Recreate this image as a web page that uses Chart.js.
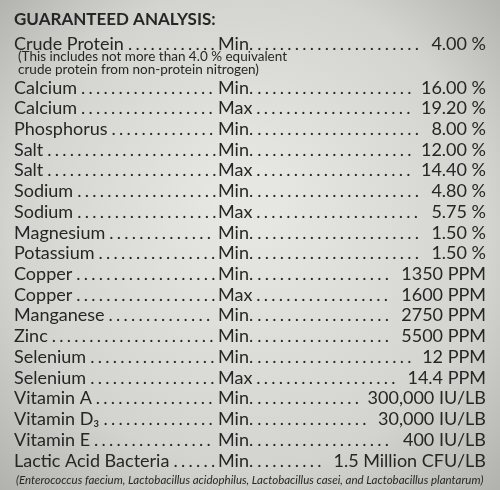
<!DOCTYPE html>
<html>
<head>
<meta charset="utf-8">
<script src="https://cdn.jsdelivr.net/npm/chart.js@4"></script>
<style>
  html, body { margin: 0; padding: 0; background: #d6d6d2; }
  #wrap { width: 500px; height: 490px; }
</style>
</head>
<body>
<div id="wrap"><canvas id="label"></canvas></div>
<script>
// label rows
const nutrients = ["Crude Protein", "Calcium", "Calcium", "Phosphorus", "Salt", "Salt", "Sodium", "Sodium",
  "Magnesium", "Potassium", "Copper", "Copper", "Manganese", "Zinc", "Selenium", "Selenium",
  "Vitamin A", "Vitamin D₃", "Vitamin E", "Lactic Acid Bacteria"];
const limits = ["Min.", "Min.", "Max", "Min.", "Min.", "Max", "Min.", "Max", "Min.", "Min.", "Min.", "Max",
  "Min.", "Min.", "Min.", "Max", "Min.", "Min.", "Min.", "Min."];
const amounts = ["4.00 %", "16.00 %", "19.20 %", "8.00 %", "12.00 %", "14.40 %", "4.80 %", "5.75 %",
  "1.50 %", "1.50 %", "1350 PPM", "1600 PPM", "2750 PPM", "5500 PPM", "12 PPM", "14.4 PPM",
  "300,000 IU/LB", "30,000 IU/LB", "400 IU/LB", "1.5 Million CFU/LB"];
// row positions on the y scale (row units, 20px each)
const rowPos = [2.2, 4.4, 5.4, 6.45, 7.5, 8.5, 9.55, 10.6, 11.65, 12.65, 13.7, 14.75, 15.75, 16.8, 17.85, 18.9, 19.9, 20.95, 22.0, 23.05];
const headingPos = 1.0;
const noteLines = ["(This includes not more than 4.0 % equivalent", "crude protein from non-protein nitrogen)"];
const notePos = [2.85, 3.5];
const footnote = "(Enterococcus faecium, Lactobacillus acidophilus, Lactobacillus casei, and Lactobacillus plantarum)";
const footPos = 24.0;

const ink = "#262626";

const textPlugin = {
  id: "labelText",
  beforeDraw(chart) {
    const c = chart.ctx;
    const g = c.createRadialGradient(250, 200, 30, 250, 245, 380);
    g.addColorStop(0, "#e6e6e2");
    g.addColorStop(0.6, "#d3d3cf");
    g.addColorStop(1, "#a9aaa6");
    c.fillStyle = g;
    c.fillRect(0, 0, chart.width, chart.height);
  },
  afterDraw(chart) {
    const c = chart.ctx;
    const y = chart.scales.y;
    c.save();
    c.fillStyle = ink;
    c.textBaseline = "middle";
    c.font = "bold 17px Lato";
    c.fillText("GUARANTEED ANALYSIS:", 14, y.getPixelForValue(headingPos));

    c.font = "18px Lato";
    const dotFill = (x0, x1, yy) => {
      for (let x = x0 + 4; x < x1 - 5; x += 7.5) c.fillText(".", x, yy);
    };
    nutrients.forEach((n, i) => {
      const yy = y.getPixelForValue(rowPos[i]);
      c.textAlign = "left";
      c.fillText(n, 14, yy);
      const nw = c.measureText(n).width + 14;
      dotFill(nw, 218, yy);
      c.fillText(limits[i], 218, yy);
      const lw = 218 + c.measureText(limits[i]).width;
      const aw = c.measureText(amounts[i]).width;
      dotFill(lw, 480 - aw, yy);
      c.textAlign = "right";
      c.fillText(amounts[i], 486, yy);
    });

    c.textAlign = "left";
    c.font = "13.5px Lato";
    noteLines.forEach((t, i) => c.fillText(t, 18, y.getPixelForValue(notePos[i])));
    c.font = "italic 11.5px Lato";
    c.fillText(footnote, 16, y.getPixelForValue(footPos));
    c.restore();
  }
};

new Chart(document.getElementById("label"), {
  type: "scatter",
  data: { datasets: [{ data: [] }] },
  options: {
    responsive: true,
    maintainAspectRatio: false,
    animation: false,
    layout: { padding: 0 },
    plugins: { legend: { display: false }, tooltip: { enabled: false } },
    scales: {
      x: { display: false, min: 0, max: 500 },
      y: { display: false, min: 0, max: 24.5, reverse: true }
    }
  },
  plugins: [textPlugin]
});
</script>
</body>
</html>
